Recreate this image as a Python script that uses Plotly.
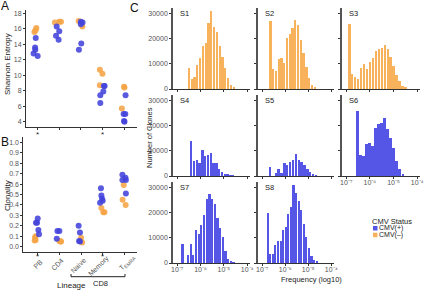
import plotly.graph_objects as go

W, H = 424, 290
FONT = "Liberation Sans, Arial, sans-serif"
BLUE_PT = "#4343dc"
ORANGE_PT = "#f5a445"
BLUE_BAR = "#5656e6"
ORANGE_BAR = "#f8b25c"

# ---------------- data: panels A and B ----------------
categories = ["PB", "CD4", "Naive", "Memory", "T<sub>EMRA</sub>"]

A_pos_vals = [[14.8, 13.6, 13.3, 12.8, 12.5], [16.3, 15.7, 15.1, 14.6],
              [16.9, 16.8, 16.6, 14.1, 13.3], [8.6, 8.6, 7.9, 7.4, 6.4],
              [7.4, 5.0, 5.0, 4.1, 4.0]]
A_pos_jit = [[-0.09, -0.12, -0.11, -0.19, 0.0], [-0.12, 0.0, -0.15, -0.03],
             [0.0, 0.08, 0.0, 0.02, -0.09], [0.07, 0.1, 0.04, -0.1, -0.1],
             [0.07, -0.02, 0.06, 0.0, 0.02]]
A_neg_vals = [[16.1, 15.8, 15.6], [16.8, 16.9, 16.9], [17.0, 16.3],
              [10.7, 10.2, 8.7], [8.5, 8.4, 5.7]]
A_neg_jit = [[-0.06, -0.1, -0.15], [-0.2, 0.0, 0.08], [-0.1, 0.07],
             [-0.12, 0.0, -0.12], [0.0, 0.02, -0.1]]

B_pos_vals = [[0.27, 0.23, 0.23, 0.16, 0.12], [0.15, 0.15, 0.075],
              [0.2, 0.135, 0.055, 0.05], [0.56, 0.49, 0.46, 0.44, 0.42],
              [0.69, 0.66, 0.64, 0.64, 0.51]]
B_pos_jit = [[0.0, -0.08, -0.03, 0.03, 0.06], [-0.09, 0.0, -0.12],
             [-0.11, -0.05, -0.09, -0.05], [-0.08, -0.06, -0.03, 0.0, -0.12],
             [-0.09, 0.05, -0.09, 0.07, 0.07]]
B_neg_vals = [[0.10, 0.085, 0.065, 0.06], [0.055, 0.05, 0.05],
              [0.085, 0.06, 0.04], [0.37, 0.33, 0.33], [0.59, 0.45, 0.40]]
B_neg_jit = [[-0.1, -0.12, -0.1, -0.14], [0.0, 0.05, 0.08],
             [0.0, -0.03, 0.05], [-0.06, 0.03, 0.08], [-0.03, -0.08, 0.06]]

# ---------------- data: panel C histograms ----------------
samples = ["S1", "S2", "S3", "S4", "S5", "S6", "S7", "S8"]
cmv_positive = [False, False, False, True, True, True, True, True]
bin_start_log10 = [-6.5, -6.64, -6.87, -6.4, -6.66, -6.53, -6.77, -6.76]
bin_width_log10 = [0.12, 0.12, 0.125, 0.12, 0.125, 0.128, 0.115, 0.112]
S1_counts = [8400, 4000, 4900, 9400, 12100, 16900, 18100, 26000, 31000, 24500,
             22600, 17100, 12600, 8400, 4200, 1500, 400]
S2_counts = [26800, 8100, 7100, 12000, 12200, 10400, 20100, 21600, 24200, 27200,
             25200, 19400, 14300, 8800, 4200, 1700, 600]
S3_counts = [25500, 5900, 4900, 3900, 8400, 10000, 8100, 10700, 12400, 15200,
             15800, 16100, 17500, 15800, 12600, 9000, 5500, 3000, 1000, 400]
S4_counts = [14000, 6000, 6200, 5300, 10200, 7800, 8400, 9100, 5200, 5000,
             2900, 1700, 800, 500, 300, 100]
S5_counts = [3700, 0, 1000, 2600, 1000, 5100, 4500, 5600, 6400, 8700, 6400,
             5600, 4500, 2600, 1400, 500, 200]
S6_counts = [25700, 8200, 8100, 12500, 13200, 11900, 19000, 20600, 21000, 23100,
             18500, 15000, 11200, 6000, 2600, 750]
S7_counts = [7500, 0, 3200, 7500, 3200, 13000, 11400, 15100, 19000, 25200, 27200,
             25200, 23300, 17700, 13800, 10300, 4900, 1500, 600, 200]
S8_counts = [19800, 3600, 3600, 7000, 8800, 8800, 12900, 14200, 19400, 22200,
             30800, 27800, 24300, 21000, 15500, 10300, 5800, 2600, 1000, 400]
all_counts = [S1_counts, S2_counts, S3_counts, S4_counts, S5_counts, S6_counts,
              S7_counts, S8_counts]
freq_tickvals = [-7, -6, -5, -4]
freq_ticktext = ["10\u207b\u2077", "10\u207b\u2076", "10\u207b\u2075", "10\u207b\u2074"]
count_tickvals = [0, 10000, 20000, 30000]
count_ticktext = ["0", "10000", "20000", "30000"]


def px(x):
    return x / W


def py(y):
    return 1 - y / H


fig = go.Figure()


def add_points(vals, jit, color, xa, ya):
    xs, ys = [], []
    for i, (vv, jj) in enumerate(zip(vals, jit)):
        for v, j in zip(vv, jj):
            xs.append(i + 1 + j)
            ys.append(v)
    fig.add_trace(go.Scatter(x=xs, y=ys, mode="markers", xaxis=xa, yaxis=ya,
                             marker=dict(size=6, color=color, opacity=0.88),
                             showlegend=False, hoverinfo="skip"))


add_points(A_neg_vals, A_neg_jit, ORANGE_PT, "x", "y")
add_points(A_pos_vals, A_pos_jit, BLUE_PT, "x", "y")
add_points(B_neg_vals, B_neg_jit, ORANGE_PT, "x2", "y2")
add_points(B_pos_vals, B_pos_jit, BLUE_PT, "x2", "y2")

tickfont = dict(family=FONT, size=7, color="#555")
axcommon = dict(showgrid=False, zeroline=False, showline=True, linecolor="#333",
                linewidth=1, ticks="outside", ticklen=2, tickcolor="#333",
                automargin=False)

layout = dict(
    width=W, height=H, margin=dict(l=0, r=0, t=0, b=0, autoexpand=False),
    paper_bgcolor="white", plot_bgcolor="white", showlegend=False,
    font=dict(family=FONT, size=8, color="#222"),
    bargap=0,
)
layout["xaxis"] = dict(axcommon, domain=[px(26), px(137)], range=[0.46, 5.6],
                       anchor="y", tickvals=[1, 2, 3, 4, 5], showticklabels=False)
layout["yaxis"] = dict(axcommon, domain=[py(126.7), py(10)], range=[3.35, 18.43],
                       anchor="x", tickvals=[4, 6, 8, 10, 12, 14, 16, 18],
                       tickfont=tickfont)
layout["xaxis2"] = dict(axcommon, domain=[px(23.3), px(136.7)], range=[0.335, 5.57],
                        anchor="y2", tickvals=[1, 2, 3, 4, 5], showticklabels=False)
layout["yaxis2"] = dict(axcommon, domain=[py(251.7), py(136.7)], range=[-0.048, 1.054],
                        anchor="x2", tickvals=[i / 10 for i in range(11)],
                        ticktext=["%.1f" % (i / 10) for i in range(11)],
                        tickfont=tickfont)

col_x = [(173, 250), (258, 334), (342, 420)]
row_y = [(8, 89), (95, 176), (182, 263)]
for k, name in enumerate(samples):
    r, c = divmod(k, 3)
    n = k + 3
    xa, ya = "x%d" % n, "y%d" % n
    start, w = bin_start_log10[k], bin_width_log10[k]
    counts = all_counts[k]
    centers = [start + i * w for i in range(len(counts))]
    fig.add_trace(go.Bar(x=centers, y=counts, width=w * 0.82, xaxis=xa, yaxis=ya,
                         marker=dict(color=BLUE_BAR if cmv_positive[k] else ORANGE_BAR,
                                     line=dict(width=0)),
                         showlegend=False, hoverinfo="skip"))
    show_x = (r == 2) or (r == 1 and c == 2)
    layout["xaxis%d" % n] = dict(axcommon, domain=[px(col_x[c][0]), px(col_x[c][1])],
                                 range=[-7.18, -3.88], anchor=ya, tickvals=freq_tickvals,
                                 ticktext=freq_ticktext, showticklabels=show_x,
                                 tickfont=dict(family=FONT, size=7, color="#555"),
                                 ticklabelstandoff=-2, linewidth=0.8)
    layout["yaxis%d" % n] = dict(axcommon, domain=[py(row_y[r][1]), py(row_y[r][0])],
                                 range=[0, 32000], anchor=xa, tickvals=count_tickvals,
                                 ticktext=count_ticktext, showticklabels=(c == 0),
                                 tickfont=dict(family=FONT, size=7, color="#555"),
                                 linewidth=1.6, linecolor="#555")


def note(text, x, y, size=7.5, color="#222", angle=0, xanchor="center", yanchor="middle",
         xref="paper", yref="paper"):
    return dict(text=text, xref=xref, yref=yref, x=x, y=y, textangle=angle,
                xanchor=xanchor, yanchor=yanchor, showarrow=False,
                font=dict(family=FONT, size=size, color=color))


annotations = []
for k, name in enumerate(samples):
    n = k + 3
    annotations.append(note(name, 0.06, 1.01, xanchor="left", yanchor="top",
                            xref="x%d domain" % n, yref="y%d domain" % n))

# rotated category labels of panel B, centred under their ticks
label_centers_px = [(37.5, 264), (57, 264), (78, 265), (99, 266), (127, 263)]
for lab, (cx, cy) in zip(categories, label_centers_px):
    annotations.append(note(lab, px(cx), py(cy), size=7, color="#555", angle=-45))

for lab, x, y in [("A", 4.5, 6), ("B", 4.5, 142), ("C", 134.5, 8)]:
    annotations.append(note(lab, px(x), py(y), size=12, color="#111"))

# significance marks
for cat in [1, 4]:
    annotations.append(note("*", cat, py(134.5), size=8, xref="x"))
    annotations.append(note("*", cat, py(256.5), size=8, xref="x2"))

annotations += [
    note("Shannon Entropy", px(7), py(64), size=8, angle=-90),
    note("Clonality", px(7), py(196), size=8, angle=-90),
    note("Lineage", px(71), py(285.5), size=8),
    note("CD8", px(100), py(283.5), size=7.5),
    note("Number of Clones", px(149), py(138), size=7.5, angle=-90),
    note("Frequency (log10)", px(311), py(279.5), size=7.5),
    note("CMV Status", px(369.5), py(221), size=7.5, xanchor="left"),
    note("CMV(+)", px(377), py(228.3), size=7, xanchor="left"),
    note("CMV(\u2013)", px(377), py(235), size=7, xanchor="left"),
]
layout["annotations"] = annotations

shapes = [
    dict(type="rect", xref="paper", yref="paper", x0=px(373), x1=px(377.5),
         y0=py(230.5), y1=py(226), fillcolor=BLUE_BAR, line=dict(width=0)),
    dict(type="rect", xref="paper", yref="paper", x0=px(373), x1=px(377.5),
         y0=py(237.2), y1=py(232.7), fillcolor=ORANGE_BAR, line=dict(width=0)),
    dict(type="path", xref="paper", yref="paper",
         path="M %f %f L %f %f L %f %f L %f %f" % (px(71), py(274), px(71), py(276.7),
                                                   px(125), py(276.7), px(125), py(274)),
         line=dict(color="#222", width=1)),
]
layout["shapes"] = shapes

fig.update_layout(**layout)
fig.write_html("out.html", config={"displayModeBar": False},
               post_script="document.body.style.margin='0';document.body.style.padding='0';")
